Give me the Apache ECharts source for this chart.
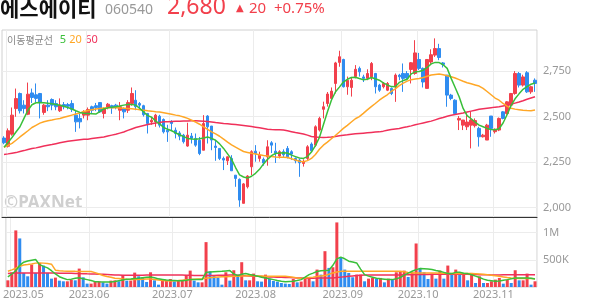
<!DOCTYPE html>
<html><head><meta charset="utf-8">
<script src="https://cdn.jsdelivr.net/npm/echarts@6/dist/echarts.min.js"></script>
<style>html,body{margin:0;padding:0;background:#fff}#c{width:594px;height:304px}</style>
</head><body><div id="c"></div>
<script>
// trading days per month (2023)
const tradingDays = {
  '2023.04': [28],
  '2023.05': [2,3,4,8,9,10,11,12,15,16,17,18,19,22,23,24,25,26,30,31],
  '2023.06': [1,2,5,7,8,9,12,13,14,15,16,19,20,21,22,23,26,27,28,29,30],
  '2023.07': [3,4,5,6,7,10,11,12,13,14,17,18,19,20,21,24,25,26,27,28,31],
  '2023.08': [1,2,3,4,7,8,9,10,11,14,16,17,18,21,22,23,24,25,28,29,30,31],
  '2023.09': [1,4,5,6,7,8,11,12,13,14,15,18,19,20,21,22,25,26,27],
  '2023.10': [4,5,6,10,11,12,13,16,17,18,19,20,23,24,25,26,27,30,31],
  '2023.11': [1,2,3,6,7,8,9,10,13,14,15]
};
const openP = [2382,2337,2403,2544,2627,2563,2513,2630,2620,2627,2523,2563,2594,2572,2532,2566,2566,2572,2508,2490,2508,2508,2554,2560,2577,2517,2550,2560,2563,2535,2544,2535,2572,2590,2572,2560,2517,2470,2471,2502,2484,2425,2471,2425,2410,2398,2338,2393,2380,2370,2315,2503,2448,2338,2325,2270,2257,2270,2178,2155,2023,2114,2224,2310,2270,2265,2279,2356,2310,2283,2307,2325,2307,2270,2261,2242,2270,2349,2343,2426,2540,2572,2600,2682,2798,2814,2664,2660,2720,2765,2718,2710,2718,2737,2673,2664,2645,2655,2664,2728,2737,2737,2759,2737,2814,2765,2655,2800,2838,2874,2795,2728,2618,2590,2481,2453,2444,2453,2450,2435,2389,2371,2503,2417,2426,2526,2517,2563,2627,2737,2673,2741,2636,2700];
const closeP = [2356,2422,2508,2599,2532,2544,2623,2605,2600,2580,2563,2554,2563,2554,2563,2554,2557,2540,2471,2471,2526,2539,2535,2550,2526,2544,2568,2548,2552,2554,2526,2577,2627,2554,2563,2510,2462,2480,2508,2453,2416,2416,2462,2407,2392,2362,2398,2380,2343,2297,2462,2444,2371,2330,2270,2261,2279,2202,2160,2041,2130,2173,2307,2297,2288,2245,2334,2343,2300,2307,2290,2279,2294,2257,2246,2252,2334,2312,2444,2490,2554,2624,2640,2795,2829,2664,2700,2700,2760,2746,2710,2737,2792,2664,2645,2682,2682,2627,2728,2719,2710,2712,2796,2850,2765,2690,2814,2840,2874,2825,2787,2618,2600,2517,2490,2481,2470,2481,2478,2389,2398,2453,2435,2430,2490,2490,2581,2627,2737,2673,2718,2636,2664,2682];
const highP = [2392,2435,2550,2654,2632,2590,2687,2654,2682,2630,2570,2590,2600,2590,2600,2580,2575,2590,2535,2517,2535,2550,2560,2575,2580,2550,2575,2565,2570,2580,2550,2590,2660,2645,2580,2565,2520,2498,2515,2510,2490,2455,2480,2440,2420,2405,2466,2410,2407,2388,2508,2508,2448,2370,2325,2280,2280,2288,2178,2160,2135,2178,2315,2343,2307,2275,2370,2365,2356,2315,2320,2338,2315,2275,2268,2265,2343,2358,2452,2499,2582,2635,2660,2801,2862,2818,2720,2718,2783,2775,2730,2760,2800,2740,2680,2690,2690,2660,2737,2735,2792,2750,2800,2920,2850,2770,2814,2870,2930,2900,2800,2728,2625,2595,2503,2481,2518,2526,2490,2444,2405,2460,2503,2435,2495,2530,2585,2630,2750,2745,2730,2750,2670,2710];
const lowP = [2348,2330,2395,2499,2517,2517,2508,2575,2580,2490,2510,2530,2535,2535,2525,2540,2540,2525,2416,2435,2490,2480,2520,2530,2520,2490,2540,2515,2540,2480,2490,2520,2560,2535,2545,2500,2407,2455,2444,2440,2407,2361,2420,2380,2370,2352,2334,2352,2334,2288,2315,2352,2315,2257,2261,2206,2234,2202,2114,2004,2023,2105,2178,2252,2252,2230,2230,2300,2245,2270,2278,2270,2262,2243,2169,2225,2262,2305,2334,2418,2490,2555,2590,2627,2774,2660,2620,2610,2710,2720,2690,2700,2700,2627,2636,2655,2640,2618,2581,2700,2636,2700,2682,2730,2755,2660,2655,2790,2828,2810,2770,2554,2590,2510,2426,2426,2426,2325,2440,2335,2385,2371,2389,2407,2420,2485,2510,2555,2620,2660,2665,2630,2625,2636];
const ma5 = [2331,2358,2385,2415,2444,2490,2535,2565,2576,2578,2576,2573,2570,2566,2562,2557,2550,2542,2532,2523,2518,2517,2516,2514,2527,2542,2548,2552,2554,2558,2563,2567,2567,2563,2545,2525,2505,2496,2475,2460,2440,2430,2422,2410,2400,2390,2380,2377,2375,2378,2382,2388,2380,2370,2350,2325,2295,2265,2220,2180,2168,2162,2172,2188,2210,2240,2265,2285,2297,2300,2301,2300,2288,2280,2272,2270,2280,2305,2340,2385,2455,2525,2590,2635,2662,2690,2705,2715,2716,2709,2703,2705,2715,2708,2700,2685,2674,2665,2664,2688,2698,2705,2735,2746,2748,2755,2770,2790,2798,2797,2785,2765,2710,2660,2609,2545,2505,2488,2470,2453,2444,2435,2429,2428,2433,2465,2510,2560,2598,2625,2650,2665,2678,2685];
const ma20 = [2331,2342,2353,2370,2388,2405,2422,2440,2452,2464,2472,2477,2481,2486,2490,2496,2502,2508,2514,2520,2528,2533,2538,2542,2545,2547,2548,2548,2548,2547,2546,2545,2543,2541,2538,2535,2532,2530,2527,2525,2521,2517,2513,2508,2504,2498,2490,2480,2470,2458,2444,2430,2416,2405,2392,2376,2360,2345,2332,2320,2308,2303,2298,2294,2290,2286,2283,2280,2278,2277,2276,2275,2268,2261,2255,2252,2258,2270,2292,2320,2343,2360,2378,2396,2415,2435,2452,2470,2488,2500,2518,2537,2555,2572,2590,2605,2620,2638,2652,2670,2684,2695,2703,2706,2709,2715,2722,2729,2732,2734,2730,2725,2719,2712,2703,2694,2686,2680,2674,2668,2655,2638,2620,2602,2590,2572,2558,2546,2541,2538,2535,2533,2532,2536];
const ma60 = [2292,2295,2299,2302,2308,2313,2319,2324,2328,2333,2338,2342,2346,2351,2356,2360,2364,2367,2370,2373,2375,2376,2379,2382,2385,2388,2393,2398,2403,2409,2415,2424,2432,2440,2446,2451,2456,2461,2465,2468,2471,2472,2473,2474,2475,2476,2476,2477,2477,2476,2475,2473,2470,2467,2465,2462,2460,2458,2456,2454,2451,2448,2445,2442,2439,2435,2431,2429,2428,2427,2426,2422,2417,2412,2408,2404,2398,2391,2388,2386,2385,2386,2388,2391,2395,2398,2400,2403,2405,2407,2409,2411,2413,2415,2416,2420,2425,2429,2432,2435,2440,2444,2449,2455,2460,2465,2470,2475,2482,2489,2495,2502,2507,2511,2516,2520,2525,2530,2535,2540,2543,2546,2549,2552,2554,2558,2562,2568,2574,2580,2587,2595,2602,2609];
// volume in thousands of shares
const volK = [123,271,1043,895,259,197,413,259,444,395,259,154,173,117,105,105,136,123,339,179,62,62,105,105,86,62,117,123,105,222,117,117,265,197,179,93,271,123,43,111,111,148,105,111,117,222,302,117,86,86,827,290,210,173,43,271,117,309,228,457,123,123,247,105,99,228,148,111,99,74,62,56,148,86,100,148,148,105,321,228,660,352,364,1190,537,321,259,179,228,228,105,154,167,154,167,86,154,136,271,278,302,185,271,802,352,271,148,247,154,302,154,395,228,321,228,247,123,259,74,197,74,74,105,136,167,62,136,74,309,123,123,247,43,105];
const volMa5 = [185,240,300,400,457,480,494,506,413,380,352,300,240,190,160,136,145,160,170,150,136,120,99,95,93,93,93,100,115,130,145,148,155,160,170,180,185,170,150,140,130,123,120,117,117,125,136,136,136,136,271,275,280,285,290,296,302,240,210,235,247,230,215,200,180,167,150,136,120,105,99,102,105,120,136,180,228,255,285,300,305,310,400,518,550,520,475,460,444,330,228,200,180,160,150,145,140,136,150,175,220,255,290,320,339,335,330,321,305,290,270,250,247,270,270,255,247,225,200,175,145,123,115,105,110,125,136,150,165,167,167,167,160,148];
const volMa20 = [290,315,345,380,405,413,425,440,444,440,435,420,310,300,295,292,290,288,287,286,285,284,265,240,212,195,180,162,155,148,142,138,136,138,142,146,148,140,130,120,113,111,115,120,126,132,136,142,148,154,162,170,178,185,188,191,194,197,200,203,206,210,208,205,202,199,197,197,197,197,197,190,180,168,155,165,175,182,192,202,210,235,260,275,288,290,290,290,290,290,290,290,290,290,290,290,290,290,290,290,280,268,260,259,259,259,259,259,257,255,253,251,249,247,247,247,247,247,246,240,234,228,218,208,197,186,175,165,160,158,157,156,155,154];
const volMa60 = [247,252,256,259,259,259,259,259,259,258,258,257,256,255,254,253,253,250,247,245,242,240,238,236,234,230,226,222,219,216,216,217,217,218,218,219,219,220,220,221,221,222,221,220,219,218,216,214,212,210,211,213,214,216,217,218,220,222,218,213,209,204,200,196,192,188,185,183,181,179,176,174,171,168,165,162,162,163,164,165,166,166,167,175,182,189,196,203,210,216,222,222,222,222,222,222,222,222,222,223,225,226,228,229,230,231,232,234,234,234,234,234,234,234,234,234,233,231,230,228,226,225,223,222,223,224,224,225,225,226,226,227,227,228];
const priceTicks = [2000,2250,2500,2750];
const volTicks = [500,1000];

const RED = '#f2404c', BLUE = '#2f8cf0';
const C5 = '#39bf39', C20 = '#ffa726', C60 = '#f0305a';

const dates = [], monthStart = {};
Object.keys(tradingDays).forEach(m => {
  tradingDays[m].forEach((d, k) => {
    if (k === 0 && m !== '2023.04') monthStart[dates.length] = m;
    dates.push(m + '.' + String(d).padStart(2, '0'));
  });
});
const candles = openP.map((o, i) => [o, closeP[i], lowP[i], highP[i]]);
const volData = volK.map((v, i) => ({
  value: v,
  itemStyle: { color: (i === 0 || v >= volK[i - 1]) ? RED : BLUE }
}));
const comma = v => String(v).replace(/\B(?=(\d{3})+(?!\d))/g, ',');
const isMonth = idx => monthStart[idx] !== undefined;
const firstMonthIdx = Math.min(...Object.keys(monthStart).map(Number));

const chart = echarts.init(document.getElementById('c'), null, { renderer: 'canvas' });
chart.setOption({
  animation: false,
  backgroundColor: '#fff',
  graphic: [
    { type: 'text', left: 0, top: -2, style: { text: '에스에이티', font: 'bold 21px "Noto Sans CJK KR"', fill: '#111' } },
    { type: 'text', left: 105, top: 3, style: { text: '060540', font: '14px "Noto Sans"', fill: '#999' } },
    { type: 'text', left: 167, top: -4, style: { text: '2,680', font: '23px "Noto Sans"', fill: RED } },
    { type: 'text', left: 236, top: 3, style: { text: '▲', font: '10px "DejaVu Sans"', fill: RED } },
    { type: 'text', left: 249, top: 1, style: { text: '20  +0.75%', font: '15px "Noto Sans"', fill: RED } },
    { type: 'text', left: 7, top: 34, style: {
        text: '{a|이동평균선}  {g|5} {o|20} {r|60}',
        rich: {
          a: { font: '10px "Noto Sans CJK KR"', fill: '#888' },
          g: { font: '11px "Noto Sans"', fill: C5 },
          o: { font: '11px "Noto Sans"', fill: C20 },
          r: { font: '11px "Noto Sans"', fill: C60 }
        } } },
    { type: 'text', left: 4, top: 195, z: 0, style: { text: '©PAXNet', font: 'bold 17px "Noto Sans"', fill: '#cfcfcf' } }
  ],
  grid: [
    { left: 2, right: 57, top: 30, height: 187, show: true, borderColor: '#d0d0d0', borderWidth: 1 },
    { left: 2, right: 57, top: 217, height: 70, show: true, borderColor: '#d0d0d0', borderWidth: 1 }
  ],
  xAxis: [
    { type: 'category', gridIndex: 0, data: dates, boundaryGap: true,
      axisLine: { show: true, onZero: false, lineStyle: { color: '#333', width: 1 } },
      axisTick: { show: false }, axisLabel: { show: false },
      splitLine: { show: true, interval: isMonth, lineStyle: { color: '#ececec' } } },
    { type: 'category', gridIndex: 1, data: dates, boundaryGap: true,
      axisLine: { show: false }, axisTick: { show: false },
      axisLabel: { show: true, interval: isMonth, color: '#999', fontSize: 11, fontFamily: 'Noto Sans', margin: 2,
        formatter: (v, idx) => idx === firstMonthIdx ? '{f|' + monthStart[idx] + '}' : '{m|' + (monthStart[idx] || '') + '}',
        rich: { f: { padding: [0, 0, 0, 23], color: '#999', fontSize: 11, fontFamily: 'Noto Sans' },
                m: { padding: [0, 4, 0, 0], color: '#999', fontSize: 11, fontFamily: 'Noto Sans' } } },
      splitLine: { show: true, interval: isMonth, lineStyle: { color: '#ececec' } } }
  ],
  yAxis: [
    { type: 'value', gridIndex: 0, position: 'right', min: 1948, max: 2976, scale: true,
      axisLine: { show: false }, axisTick: { show: false, customValues: priceTicks },
      axisLabel: { customValues: priceTicks, color: '#999', fontSize: 11, fontFamily: 'Noto Sans', margin: 6,
        padding: [4, 0, 0, 0], formatter: comma },
      splitLine: { show: true, lineStyle: { color: '#ececec' } } },
    { type: 'value', gridIndex: 1, position: 'right', min: 0, max: 1290,
      axisLine: { show: false }, axisTick: { show: false, customValues: volTicks },
      axisLabel: { customValues: volTicks, color: '#999', fontSize: 11, fontFamily: 'Noto Sans', margin: 6,
        padding: [2, 0, 0, 0], formatter: v => v >= 1000 ? (v / 1000) + 'M' : v + 'K' },
      splitLine: { show: true, lineStyle: { color: '#ececec' } } }
  ],
  series: [
    { type: 'candlestick', xAxisIndex: 0, yAxisIndex: 0, data: candles, barWidth: 3,
      itemStyle: { color: RED, color0: BLUE, borderColor: RED, borderColor0: BLUE, borderWidth: 1 } },
    { type: 'line', xAxisIndex: 0, yAxisIndex: 0, data: ma60, symbol: 'none', lineStyle: { color: C60, width: 1.5 } },
    { type: 'line', xAxisIndex: 0, yAxisIndex: 0, data: ma20, symbol: 'none', lineStyle: { color: C20, width: 1.5 } },
    { type: 'line', xAxisIndex: 0, yAxisIndex: 0, data: ma5, symbol: 'none', lineStyle: { color: C5, width: 1.5 } },
    { type: 'bar', xAxisIndex: 1, yAxisIndex: 1, data: volData, barWidth: 3 },
    { type: 'line', xAxisIndex: 1, yAxisIndex: 1, data: volMa60, symbol: 'none', lineStyle: { color: C60, width: 1.5 } },
    { type: 'line', xAxisIndex: 1, yAxisIndex: 1, data: volMa20, symbol: 'none', lineStyle: { color: C20, width: 1.5 } },
    { type: 'line', xAxisIndex: 1, yAxisIndex: 1, data: volMa5, symbol: 'none', lineStyle: { color: C5, width: 1.5 } }
  ]
});
</script></body></html>
